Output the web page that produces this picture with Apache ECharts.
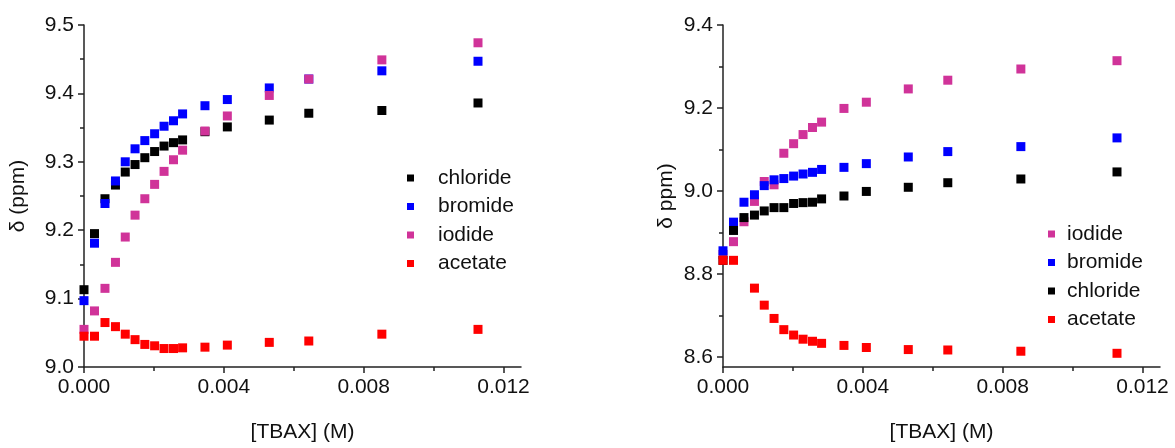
<!DOCTYPE html>
<html>
<head>
<meta charset="utf-8">
<script src="https://cdn.jsdelivr.net/npm/echarts@6/dist/echarts.min.js"></script>
<style>
html,body{margin:0;padding:0;background:#fff;}
#chart{width:1175px;height:448px;}
</style>
</head>
<body>
<div id="chart"></div>
<script>
// ---- data ----
const xConc = [0, 0.0003, 0.0006, 0.0009, 0.00118, 0.00146, 0.00174, 0.00202, 0.00229, 0.00256, 0.00282, 0.00346, 0.0041, 0.0053, 0.00643, 0.00852, 0.01127];

// left panel
const chlorideL = [9.113, 9.195, 9.246, 9.266, 9.285, 9.296, 9.306, 9.315, 9.323, 9.328, 9.332, 9.344, 9.351, 9.361, 9.371, 9.375, 9.386];
const bromideL  = [9.097, 9.181, 9.239, 9.272, 9.300, 9.319, 9.331, 9.341, 9.352, 9.360, 9.370, 9.382, 9.391, 9.408, 9.421, 9.433, 9.447];
const iodideL   = [9.055, 9.082, 9.115, 9.153, 9.190, 9.222, 9.246, 9.267, 9.286, 9.303, 9.317, 9.345, 9.367, 9.397, 9.421, 9.449, 9.474];
const acetateL  = [9.045, 9.045, 9.065, 9.059, 9.048, 9.040, 9.033, 9.031, 9.027, 9.027, 9.028, 9.029, 9.032, 9.036, 9.038, 9.048, 9.055];

// right panel
const iodideR   = [8.847, 8.878, 8.926, 8.975, 9.023, 9.015, 9.091, 9.114, 9.136, 9.153, 9.166, 9.199, 9.214, 9.246, 9.267, 9.294, 9.314];
const bromideR  = [8.856, 8.925, 8.973, 8.991, 9.013, 9.027, 9.030, 9.036, 9.041, 9.045, 9.052, 9.057, 9.066, 9.082, 9.095, 9.107, 9.128];
const chlorideR = [8.833, 8.905, 8.936, 8.942, 8.952, 8.960, 8.960, 8.970, 8.972, 8.973, 8.981, 8.988, 8.999, 9.009, 9.020, 9.029, 9.046];
const acetateR  = [8.833, 8.833, null, 8.766, 8.725, 8.693, 8.666, 8.653, 8.643, 8.638, 8.633, 8.628, 8.623, 8.618, 8.617, 8.614, 8.609];

// ticks
const xMajor = [0, 0.004, 0.008, 0.012];
const xMinor = [0.002, 0.006, 0.010];
const yMajorL = [9.0, 9.1, 9.2, 9.3, 9.4, 9.5];
const yMinorL = [9.05, 9.15, 9.25, 9.35, 9.45];
const yMajorR = [8.6, 8.8, 9.0, 9.2, 9.4];
const yMinorR = [8.7, 8.9, 9.1, 9.3];

const legendLeft  = ['chloride', 'bromide', 'iodide', 'acetate'];
const legendRight = ['iodide', 'bromide', 'chloride', 'acetate'];

const colors = { chloride: '#000000', bromide: '#0000ff', iodide: '#d03399', acetate: '#ff0000' };

// ---- chart ----
const FONT = "'Liberation Sans', Arial, sans-serif";
const TXT = '#111';
function pairs(ys) {
  const out = [];
  ys.forEach((y, i) => { if (y !== null) out.push([xConc[i], y]); });
  return out;
}
function mainX(grid, name) {
  return {
    type: 'value', gridIndex: grid, min: 0, max: 0.0125, position: 'bottom',
    name: name, nameLocation: 'middle', nameGap: 55,
    nameTextStyle: { fontFamily: FONT, fontSize: 21, color: TXT },
    axisLine: { show: true, onZero: false, lineStyle: { color: '#222', width: 1.5 } },
    axisTick: { show: true, length: 6, customValues: xMajor, lineStyle: { color: '#222', width: 1.5 } },
    axisLabel: { show: true, customValues: xMajor, margin: 10, fontFamily: FONT, fontSize: 21, color: TXT,
      formatter: v => v.toFixed(3) },
    splitLine: { show: false }
  };
}
function minorX(grid) {
  return {
    type: 'value', gridIndex: grid, min: 0, max: 0.0125, position: 'bottom',
    axisLine: { show: false, onZero: false },
    axisTick: { show: true, length: 4, customValues: xMinor, lineStyle: { color: '#222', width: 1.5 } },
    axisLabel: { show: false }, splitLine: { show: false }
  };
}
function mainY(grid, min, max, major, name, gap) {
  return {
    type: 'value', gridIndex: grid, min: min, max: max, position: 'left',
    name: name, nameLocation: 'middle', nameGap: gap,
    nameTextStyle: { fontFamily: FONT, fontSize: 21, color: TXT },
    axisLine: { show: true, onZero: false, lineStyle: { color: '#222', width: 1.5 } },
    axisTick: { show: true, length: 6, customValues: major, lineStyle: { color: '#222', width: 1.5 } },
    axisLabel: { show: true, customValues: major, margin: 10, fontFamily: FONT, fontSize: 21, color: TXT,
      formatter: v => v.toFixed(1) },
    splitLine: { show: false }
  };
}
function minorY(grid, min, max, minor) {
  return {
    type: 'value', gridIndex: grid, min: min, max: max, position: 'left',
    axisLine: { show: false, onZero: false },
    axisTick: { show: true, length: 4, customValues: minor, lineStyle: { color: '#222', width: 1.5 } },
    axisLabel: { show: false }, splitLine: { show: false }
  };
}
function ser(name, ys, xi, yi) {
  return {
    type: 'scatter', name: name, xAxisIndex: xi, yAxisIndex: yi,
    symbol: 'rect', symbolSize: 9, data: pairs(ys),
    itemStyle: { color: colors[name], opacity: 1 }, emphasis: { disabled: true }
  };
}
function legend(names, left, top, pad) {
  return {
    orient: 'vertical', left: left, top: top, data: names,
    icon: 'rect', itemWidth: 7, itemHeight: 7, itemGap: 6.5,
    itemStyle: { opacity: 1 },
    textStyle: { fontFamily: FONT, fontSize: 21, lineHeight: 22, color: TXT, padding: [0, 0, 0, pad] },
    selectedMode: false
  };
}

const chart = echarts.init(document.getElementById('chart'), null, { renderer: 'canvas' });
chart.setOption({
  animation: false,
  backgroundColor: '#fff',
  grid: [
    { left: 84, top: 25, width: 437, height: 351 },
    { left: 723, top: 25, width: 437, height: 351 }
  ],
  xAxis: [mainX(0, '[TBAX] (M)'), minorX(0), mainX(1, '[TBAX] (M)'), minorX(1)],
  yAxis: [
    mainY(0, 9.0, 9.5, yMajorL, 'δ (ppm)', 55),
    minorY(0, 9.0, 9.5, yMinorL),
    mainY(1, 8.576, 9.4, yMajorR, 'δ ppm)', 46),
    minorY(1, 8.576, 9.4, yMinorR)
  ],
  legend: [
    legend(legendLeft, 402, 162, 19),
    legend(legendRight, 1043, 218, 7)
  ],
  series: [
    ser('chloride', chlorideL, 0, 0),
    ser('bromide', bromideL, 0, 0),
    ser('iodide', iodideL, 0, 0),
    ser('acetate', acetateL, 0, 0),
    ser('iodide', iodideR, 2, 2),
    ser('bromide', bromideR, 2, 2),
    ser('chloride', chlorideR, 2, 2),
    ser('acetate', acetateR, 2, 2)
  ]
});
</script>
</body>
</html>
